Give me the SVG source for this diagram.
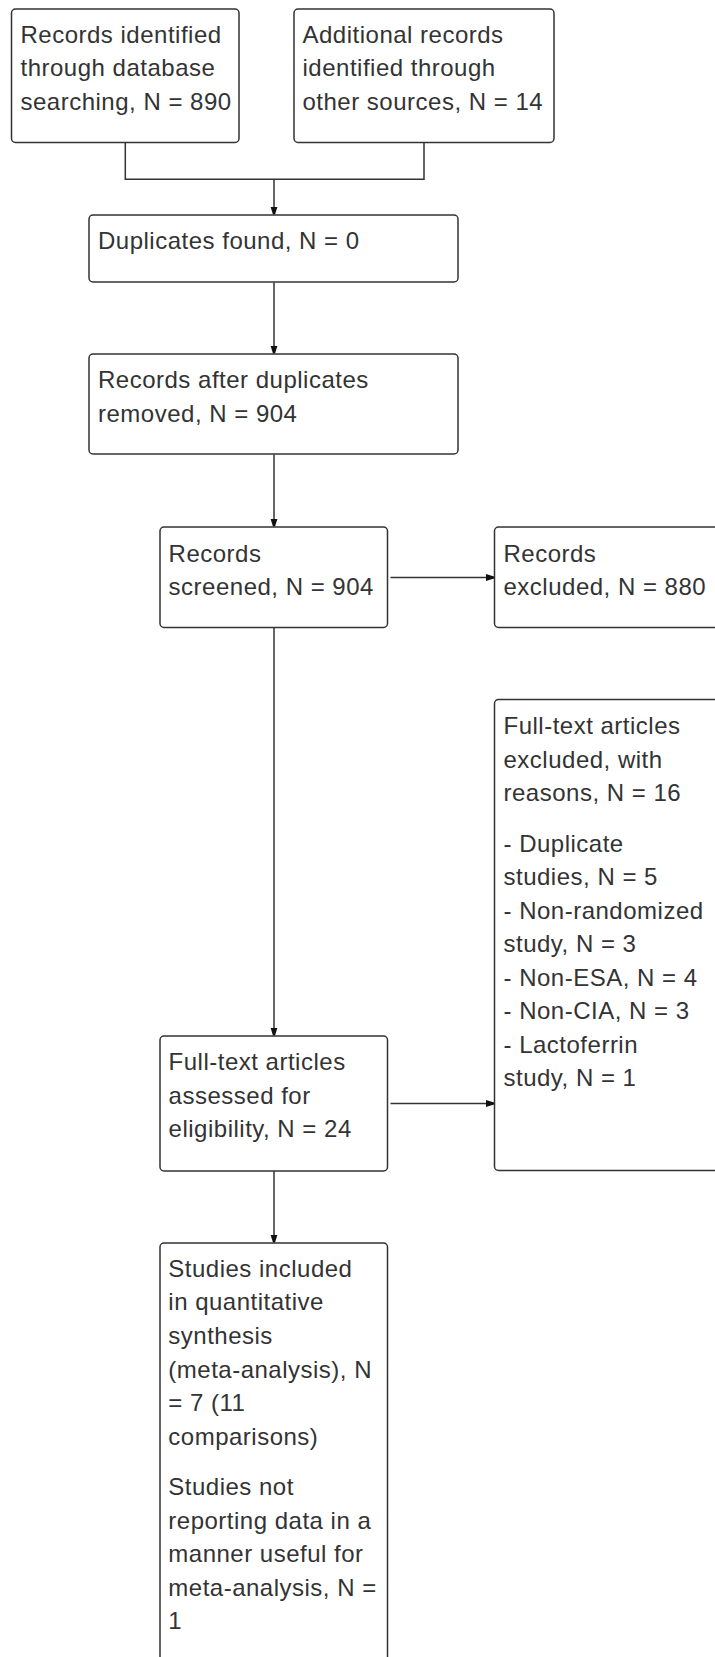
<svg xmlns="http://www.w3.org/2000/svg" width="715" height="1657" viewBox="0 0 715 1657">
<style>
.box{fill:#fff;stroke:#333;stroke-width:1.5}
.t{font-family:"Liberation Sans",Arial,sans-serif;font-size:24px;letter-spacing:0.5px;fill:#333}
.c{fill:none;stroke:#333;stroke-width:1.5}
</style>
<defs>
<marker id="ah" markerUnits="userSpaceOnUse" markerWidth="10" markerHeight="10" refX="8" refY="4" orient="auto">
<path d="M0,0.5 L8,3 L8,5 L0,7.5 z" fill="#111"/>
</marker>
</defs>
<rect x="0" y="0" width="715" height="1657" fill="#fff"/>
<g id="connectors">
<path class="c" d="M125.3,142.5 V179.3 H424 V142.5"/>
<path class="c" d="M274,179.3 V214.5" marker-end="url(#ah)"/>
<path class="c" d="M274,282.5 V353.5" marker-end="url(#ah)"/>
<path class="c" d="M274,454.5 V526.5" marker-end="url(#ah)"/>
<path class="c" d="M390.5,577.5 H494" marker-end="url(#ah)"/>
<path class="c" d="M274,627.5 V1035.5" marker-end="url(#ah)"/>
<path class="c" d="M390.5,1103.5 H494" marker-end="url(#ah)"/>
<path class="c" d="M274,1171 V1242.5" marker-end="url(#ah)"/>
</g>
<g id="n1">
<rect class="box" x="11.5" y="9" width="227.5" height="133.5" rx="4"/>
<text class="t" x="20.5" y="42.7">Records identified</text>
<text class="t" x="20.5" y="76.3">through database</text>
<text class="t" x="20.5" y="110">searching, N = 890</text>
</g>
<g id="n2">
<rect class="box" x="294" y="9" width="260" height="133.5" rx="4"/>
<text class="t" x="302.5" y="42.7">Additional records</text>
<text class="t" x="302.5" y="76.3">identified through</text>
<text class="t" x="302.5" y="110">other sources, N = 14</text>
</g>
<g id="n3">
<rect class="box" x="89" y="215" width="369" height="67" rx="4"/>
<text class="t" x="98" y="249">Duplicates found, N = 0</text>
</g>
<g id="n4">
<rect class="box" x="89" y="354" width="369" height="100" rx="4"/>
<text class="t" x="98" y="388.3">Records after duplicates</text>
<text class="t" x="98" y="421.9">removed, N = 904</text>
</g>
<g id="n5">
<rect class="box" x="160" y="527" width="227.5" height="100.5" rx="4"/>
<text class="t" x="168.6" y="561.5">Records</text>
<text class="t" x="168.6" y="595">screened, N = 904</text>
</g>
<g id="n6">
<rect class="box" x="494.5" y="527" width="230" height="100.5" rx="4"/>
<text class="t" x="503.5" y="561.5">Records</text>
<text class="t" x="503.5" y="595">excluded, N = 880</text>
</g>
<g id="n7">
<rect class="box" x="494.5" y="699.5" width="230" height="471" rx="4"/>
<text class="t" x="503.5" y="734">Full-text articles</text>
<text class="t" x="503.5" y="767.5">excluded, with</text>
<text class="t" x="503.5" y="801">reasons, N = 16</text>
<text class="t" x="503.5" y="851.5">- Duplicate</text>
<text class="t" x="503.5" y="885">studies, N = 5</text>
<text class="t" x="503.5" y="918.5">- Non-randomized</text>
<text class="t" x="503.5" y="952">study, N = 3</text>
<text class="t" x="503.5" y="985.5">- Non-ESA, N = 4</text>
<text class="t" x="503.5" y="1019">- Non-CIA, N = 3</text>
<text class="t" x="503.5" y="1052.5">- Lactoferrin</text>
<text class="t" x="503.5" y="1086">study, N = 1</text>
</g>
<g id="n8">
<rect class="box" x="160" y="1036" width="227.5" height="135" rx="4"/>
<text class="t" x="168.6" y="1070">Full-text articles</text>
<text class="t" x="168.6" y="1103.5">assessed for</text>
<text class="t" x="168.6" y="1137">eligibility, N = 24</text>
</g>
<g id="n9">
<rect class="box" x="160" y="1243" width="227.5" height="440" rx="4"/>
<text class="t" x="168.3" y="1276.7">Studies included</text>
<text class="t" x="168.3" y="1310.3">in quantitative</text>
<text class="t" x="168.3" y="1343.9">synthesis</text>
<text class="t" x="168.3" y="1377.5">(meta-analysis), N</text>
<text class="t" x="168.3" y="1411">= 7 (11</text>
<text class="t" x="168.3" y="1444.5">comparisons)</text>
<text class="t" x="168.3" y="1495">Studies not</text>
<text class="t" x="168.3" y="1528.5">reporting data in a</text>
<text class="t" x="168.3" y="1562">manner useful for</text>
<text class="t" x="168.3" y="1595.5">meta-analysis, N =</text>
<text class="t" x="168.3" y="1629">1</text>
</g>
</svg>
